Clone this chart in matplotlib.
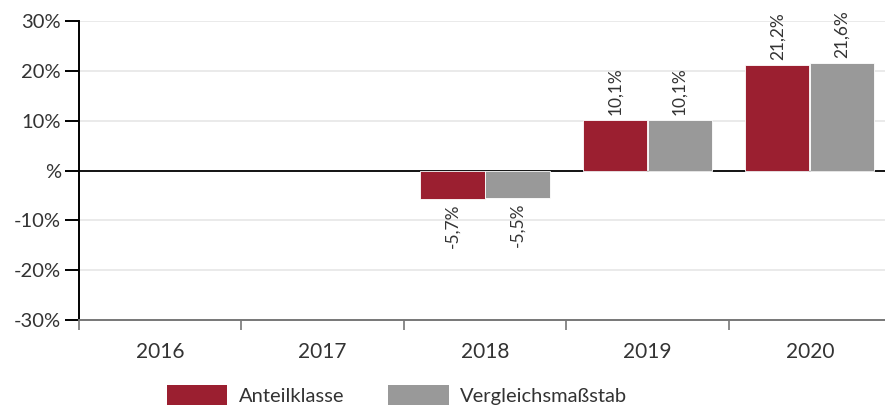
import matplotlib
matplotlib.use("Agg")
import matplotlib.pyplot as plt
import numpy as np
from matplotlib.patches import Patch

years = ["2016", "2017", "2018", "2019", "2020"]
anteil = [np.nan, np.nan, -5.7, 10.1, 21.2]
vergleich = [np.nan, np.nan, -5.5, 10.1, 21.6]
series_names = ["Anteilklasse", "Vergleichsmaßstab"]
yticks = [-30, -20, -10, 0, 10, 20, 30]
ytick_labels = ["-30%", "-20%", "-10%", "%", "10%", "20%", "30%"]

red = "#9b1f30"
gray = "#999999"
txt = "#333333"
plt.rcParams['font.family'] = ['Lato', 'DejaVu Sans']

fig = plt.figure(figsize=(8.85, 4.08), dpi=100)
W, H = 885, 408
ax = fig.add_axes([79 / W, 1 - 320 / H, (891 - 79) / W, (320 - 21) / H])

x = np.arange(len(years))
bw = 0.395
ax.bar(x - bw / 2 - 0.003, anteil, width=bw, color=red, edgecolor="white", linewidth=0.6, zorder=3)
ax.bar(x + bw / 2 + 0.003, vergleich, width=bw, color=gray, edgecolor="white", linewidth=0.6, zorder=3)

def fmt(v):
    return f"{v:.1f}".replace(".", ",") + "%"

for xs, vals in ((x - bw / 2, anteil), (x + bw / 2, vergleich)):
    for xi, v in zip(xs, vals):
        if np.isnan(v):
            continue
        if v >= 0:
            ax.annotate(fmt(v), (xi, v), xytext=(0, 3.5), textcoords="offset points",
                        rotation=90, ha="center", va="bottom", fontsize=12.5, color=txt, zorder=4)
        else:
            ax.annotate(fmt(v), (xi, v), xytext=(0, -3.5), textcoords="offset points",
                        rotation=90, ha="center", va="top", fontsize=12.5, color=txt, zorder=4)

ax.set_xlim(-0.5, len(years) - 0.5)
ax.set_ylim(-30, 30)
ax.set_yticks(yticks)
ax.set_yticklabels(ytick_labels)
for yv in yticks:
    if yv not in (0, -30):
        ax.axhline(yv, color="#e6e6e6", linewidth=1.2, zorder=1)
ax.axhline(0, color="black", linewidth=1.3, zorder=2)

ax.set_xticks(np.arange(len(years) + 1) - 0.5, minor=False)
ax.set_xticklabels([])
ax.set_xticks(x, minor=True)
ax.set_xticklabels(years, minor=True)
ax.tick_params(axis="x", which="major", length=7, width=1.2, color="#777777", direction="out")
ax.tick_params(axis="x", which="minor", length=0, pad=16, labelsize=15, labelcolor=txt)
ax.tick_params(axis="y", length=10, width=1.4, color="black", labelsize=14.5, labelcolor=txt, pad=3)

for s in ("top", "right"):
    ax.spines[s].set_visible(False)
ax.spines["left"].set_color("black")
ax.spines["left"].set_linewidth(1.4)
ax.spines["bottom"].set_color("#777777")
ax.spines["bottom"].set_linewidth(1.4)

handles = [Patch(facecolor=red), Patch(facecolor=gray)]
fig.legend(handles, series_names, loc="lower left", bbox_to_anchor=(167 / W, 3 / H), ncol=2,
           frameon=False, handlelength=3.0, handleheight=1.15, fontsize=14.5, borderpad=0,
           borderaxespad=0, labelcolor=txt, columnspacing=2.2, handletextpad=0.55)

fig.savefig("out.png", dpi=100)
